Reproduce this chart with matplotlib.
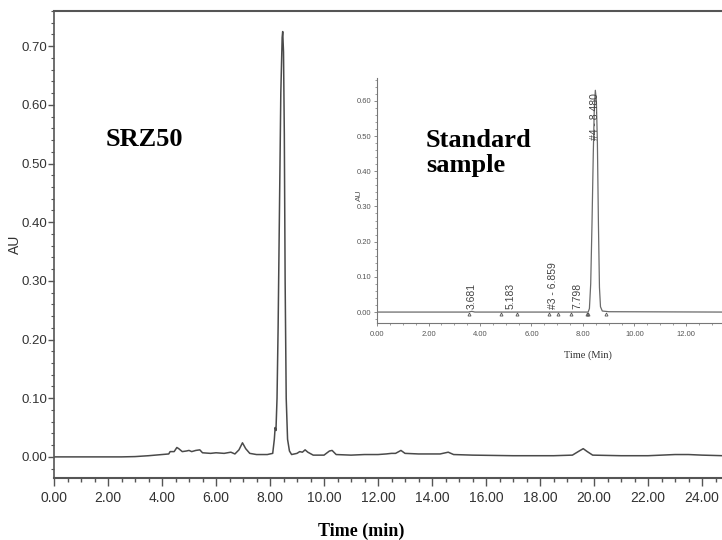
"""HPLC chromatogram of SRZ50 with the standard-sample trace as an inset."""

import matplotlib
matplotlib.use("Agg")
import matplotlib.pyplot as plt
from matplotlib.ticker import MultipleLocator, FormatStrFormatter

# ── Data ─────────────────────────────────────────────────────────────────────
# main trace: SRZ50
t_main = [0.00, 2.50, 3.00, 3.50, 4.00, 4.25, 4.30, 4.45, 4.55, 4.62, 4.75,
          4.90, 5.00, 5.10, 5.25, 5.40, 5.50, 5.80, 6.00, 6.30, 6.55, 6.70,
          6.85, 6.98, 7.10, 7.25, 7.50, 7.90, 8.10, 8.16, 8.19, 8.22, 8.26,
          8.30, 8.35, 8.40, 8.45, 8.47, 8.50, 8.53, 8.56, 8.60, 8.65, 8.72,
          8.80, 9.00, 9.10, 9.20, 9.30, 9.40, 9.60, 10.00, 10.20, 10.30,
          10.45, 11.00, 11.50, 12.00, 12.30, 12.50, 12.65, 12.85, 13.00,
          13.50, 14.00, 14.30, 14.60, 14.80, 15.50, 17.00, 18.50, 19.20,
          19.45, 19.60, 19.75, 19.95, 21.00, 22.00, 23.00, 23.50, 24.00, 24.80]
au_main = [0.000, 0.000, 0.0005, 0.002, 0.004, 0.005, 0.009, 0.009, 0.016,
           0.014, 0.009, 0.010, 0.011, 0.009, 0.011, 0.012, 0.007, 0.006,
           0.007, 0.006, 0.008, 0.005, 0.012, 0.024, 0.014, 0.006, 0.004,
           0.004, 0.006, 0.030, 0.050, 0.045, 0.100, 0.220, 0.420, 0.620,
           0.715, 0.725, 0.690, 0.550, 0.300, 0.100, 0.030, 0.010, 0.004,
           0.006, 0.009, 0.008, 0.012, 0.008, 0.003, 0.003, 0.010, 0.011,
           0.004, 0.003, 0.004, 0.004, 0.005, 0.006, 0.006, 0.011, 0.006,
           0.005, 0.005, 0.005, 0.008, 0.004, 0.003, 0.002, 0.002, 0.003,
           0.010, 0.014, 0.009, 0.003, 0.002, 0.002, 0.004, 0.004, 0.003, 0.002]

# inset trace: standard sample
t_std = [0.00, 3.55, 3.68, 3.80, 8.20, 8.25, 8.30, 8.35, 8.40, 8.44, 8.48,
         8.52, 8.56, 8.60, 8.64, 8.68, 8.75, 9.00, 13.40]
au_std = [0.000, 0.000, 0.002, 0.000, 0.000, 0.010, 0.080, 0.250, 0.450,
          0.580, 0.630, 0.600, 0.480, 0.250, 0.070, 0.015, 0.003, 0.001, 0.000]

peak_rt = [3.69, 5.20, 6.83, 7.77, 8.47]
peak_labels = ["3.681", "5.183", "#3 - 6.859", "7.798", "#4 - 8.480"]
peak_label_y = [0.010, 0.010, 0.010, 0.010, 0.490]
mark_rt = [3.57, 4.80, 5.43, 6.68, 7.03, 7.53, 8.14, 8.20, 8.90]

NARROW = ["Liberation Sans Narrow", "Liberation Sans", "DejaVu Sans"]
SERIF = ["Liberation Serif", "DejaVu Serif"]
LINE = "#4a4a4a"
TEXT = "#333333"

fig = plt.figure(figsize=(7.22, 5.40), dpi=100)

# ── Main chromatogram ────────────────────────────────────────────────────────
ax = fig.add_axes([0.0748, 0.1148, 0.9252, 0.8648])
ax.plot(t_main, au_main, color=LINE, lw=1.1)
ax.set_xlim(0, 24.74)
ax.set_ylim(-0.036, 0.76)
ax.spines["right"].set_visible(False)
for s in ("left", "bottom", "top"):
    ax.spines[s].set_color("#555555")
ax.spines["left"].set_linewidth(1.2)
ax.spines["bottom"].set_linewidth(1.5)
ax.spines["top"].set_linewidth(1.5)

ax.xaxis.set_major_locator(MultipleLocator(2))
ax.xaxis.set_minor_locator(MultipleLocator(0.5))
ax.yaxis.set_major_locator(MultipleLocator(0.1))
ax.yaxis.set_minor_locator(MultipleLocator(0.02))
ax.xaxis.set_major_formatter(FormatStrFormatter("%.2f"))
ax.yaxis.set_major_formatter(FormatStrFormatter("%.2f"))
ax.tick_params(axis="x", which="major", length=6, width=1, color="#555555",
               labelsize=10, labelcolor=TEXT, pad=3.5)
ax.tick_params(axis="x", which="minor", length=3, width=1, color="#555555")
ax.tick_params(axis="y", which="major", length=4, width=1, color="#555555",
               labelsize=9.5, labelcolor=TEXT, pad=1)
ax.tick_params(axis="y", which="minor", length=2.2, width=0.8, color="#555555")
for lab in ax.get_xticklabels() + ax.get_yticklabels():
    lab.set_family(NARROW)

ax.set_xlabel("Time (min)", family=SERIF, fontweight="bold", fontsize=13,
              color="black")
ax.xaxis.set_label_coords(0.46, -0.095)
ax.set_ylabel("AU", family=NARROW, fontsize=10, color=TEXT)
ax.yaxis.set_label_coords(-0.048, 0.50)
ax.text(0.078, 0.724, "SRZ50", transform=ax.transAxes, family=SERIF,
        fontweight="bold", fontsize=19, color="black", va="center")

# ── Inset: standard sample ───────────────────────────────────────────────────
ins = fig.add_axes([0.5222, 0.4019, 0.4778, 0.4537])
ins.patch.set_alpha(0)
ins.plot(t_std, au_std, color="#6a6a6a", lw=0.9)
ins.plot(mark_rt, [-0.006] * len(mark_rt), ls="none", marker="^", ms=2.2,
         mfc="none", mec="#555555", mew=0.6)
for rt, lab, y in zip(peak_rt, peak_labels, peak_label_y):
    ins.text(rt, y, lab, rotation=90, ha="center", va="bottom",
             family=NARROW, fontsize=7.5, color="#444444")
ins.set_xlim(0, 13.4)
ins.set_ylim(-0.031, 0.665)
ins.spines["top"].set_visible(False)
ins.spines["right"].set_visible(False)
for s in ("left", "bottom"):
    ins.spines[s].set_color("#777777")
    ins.spines[s].set_linewidth(0.8)
ins.xaxis.set_major_locator(MultipleLocator(2))
ins.xaxis.set_minor_locator(MultipleLocator(0.5))
ins.yaxis.set_major_locator(MultipleLocator(0.1))
ins.yaxis.set_minor_locator(MultipleLocator(0.02))
ins.xaxis.set_major_formatter(FormatStrFormatter("%.2f"))
ins.yaxis.set_major_formatter(FormatStrFormatter("%.2f"))
ins.tick_params(axis="both", which="major", length=2.5, width=0.6,
                color="#777777", labelsize=5.5, labelcolor="#555555", pad=1.5)
ins.tick_params(axis="x", which="major", pad=3)
ins.tick_params(axis="both", which="minor", length=1.5, width=0.5,
                color="#777777")
for lab in ins.get_xticklabels() + ins.get_yticklabels():
    lab.set_family(NARROW)
ins.set_xlabel("Time (Min)", family=SERIF, fontsize=7.5, color="#333333")
ins.xaxis.set_label_coords(0.61, -0.11)
ins.set_ylabel("AU", family=NARROW, fontsize=6, color="#555555")
ins.yaxis.set_label_coords(-0.04, 0.52)
ins.text(0.142, 0.694, "Standard\nsample", transform=ins.transAxes,
         family=SERIF, fontweight="bold", fontsize=19, color="black",
         va="center", linespacing=1.15)

fig.savefig("out.png", dpi=100)
